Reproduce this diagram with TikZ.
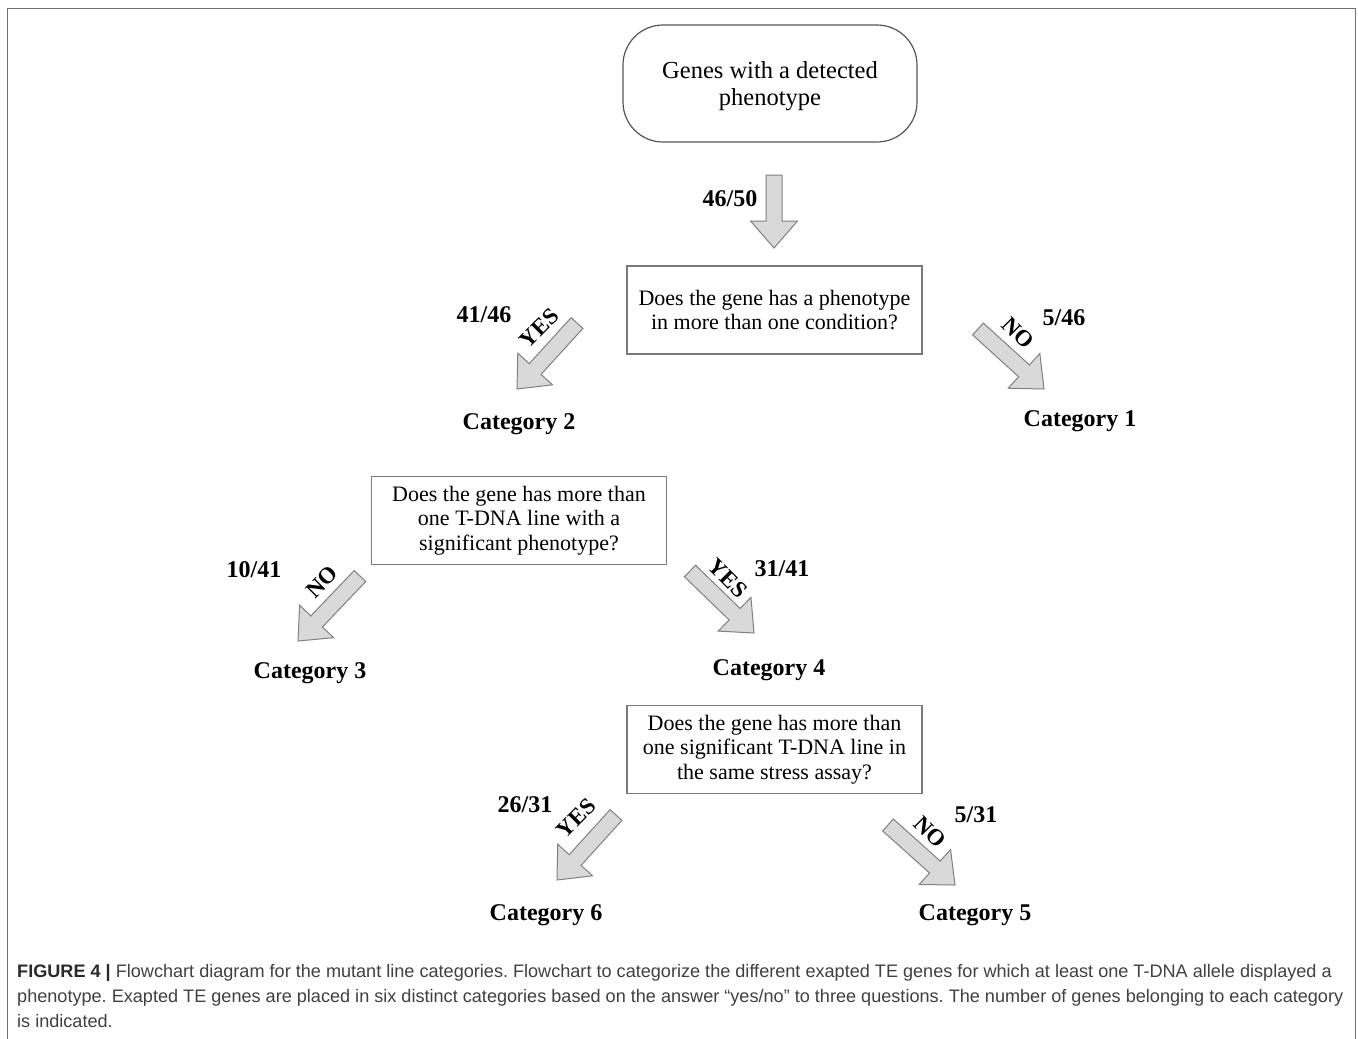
\documentclass[tikz,border=0pt]{standalone}
\usepackage{fontspec}
\setmainfont{Liberation Serif}
\newfontfamily\capfont{Liberation Sans}
\usetikzlibrary{calc}
\definecolor{framegray}{HTML}{707070}
\definecolor{boxgray}{HTML}{7A7A7A}
\definecolor{startgray}{HTML}{555555}
\definecolor{arrowfill}{HTML}{D9D9D9}
\definecolor{arrowline}{HTML}{808080}
\definecolor{capgray}{HTML}{404040}
\definecolor{capdark}{HTML}{2A2A2A}
\tikzset{
  framestyle/.style={draw=framegray, line width=1.5pt},
  startbox/.style={draw=startgray, line width=1.2pt, rounded corners=40pt, minimum width=294pt, minimum height=117pt, align=center, inner sep=0pt, font=\fontsize{24.5}{27}\selectfont},
  qbox/.style={draw=boxgray, line width=1.2pt, minimum width=295pt, minimum height=88pt, align=center, inner sep=0pt, font=\fontsize{22}{24.5}\selectfont},
  catlabel/.style={inner sep=0pt, font=\fontsize{24}{28}\selectfont\bfseries},
  numlabel/.style={inner sep=0pt, font=\fontsize{24}{28}\selectfont\bfseries},
  anslabel/.style={inner sep=0pt, font=\fontsize{23}{23}\selectfont\bfseries},
  arrowbody/.style={draw=arrowline, fill=arrowfill, line width=1pt, line join=miter},
  capline/.style={inner sep=0pt, anchor=base west, text=capgray, font=\capfont\fontsize{18.1}{25}\selectfont\frenchspacing}
}
\newcommand{\blockarrow}[2]{%
  \path ($(#2)!27pt!(#1)$) coordinate (hb);
  \draw[arrowbody] ($(#1)!8pt!90:(#2)$) -- ($(hb)!8pt!-90:(#1)$) -- ($(hb)!23.5pt!-90:(#1)$) -- (#2) -- ($(hb)!23.5pt!90:(#1)$) -- ($(hb)!8pt!90:(#1)$) -- ($(#1)!8pt!-90:(#2)$) -- cycle;
}
\begin{document}
\begin{tikzpicture}[x=1pt, y=-1pt]
\useasboundingbox (0,0) rectangle (1358,1039);
\fill[white] (0,0) rectangle (1358,1039);
% outer frame
\draw[framestyle] (7.5,1045) -- (7.5,8.5) -- (1355.5,8.5) -- (1355.5,1045);

% boxes
\node[startbox] (start) at (770,83.5) {};
\node[align=center, inner sep=0pt, font=\fontsize{24.5}{27}\selectfont] (starttext) at (770,86.5) {Genes with a detected\\phenotype};
\node[qbox] (q1) at (774.5,310) {Does the gene has a phenotype\\in more than one condition?};
\node[qbox] (q2) at (519,520.5) {Does the gene has more than\\one T-DNA line with a\\significant phenotype?};
\node[qbox] (q3) at (774.5,749.5) {Does the gene has more than\\one significant T-DNA line in\\the same stress assay?};

% categories
\node[catlabel] (cat2) at (519,424) {Category 2};
\node[catlabel] (cat1) at (1080,421) {Category 1};
\node[catlabel] (cat3) at (310,673) {Category 3};
\node[catlabel] (cat4) at (769,670) {Category 4};
\node[catlabel] (cat6) at (546,915) {Category 6};
\node[catlabel] (cat5) at (975,915) {Category 5};

% arrow end points
\coordinate (a1s) at (774,175);  \coordinate (a1e) at (774,248);
\coordinate (a2s) at (577,323);  \coordinate (a2e) at (517,389);
\coordinate (a3s) at (978,329);  \coordinate (a3e) at (1044,389);
\coordinate (a4s) at (360,576);  \coordinate (a4e) at (298,641);
\coordinate (a5s) at (690,571);  \coordinate (a5e) at (754,633);
\coordinate (a6s) at (616,815);  \coordinate (a6e) at (557,880);
\coordinate (a7s) at (888,825);  \coordinate (a7e) at (955,885);

\blockarrow{a1s}{a1e}
\blockarrow{a2s}{a2e}
\blockarrow{a3s}{a3e}
\blockarrow{a4s}{a4e}
\blockarrow{a5s}{a5e}
\blockarrow{a6s}{a6e}
\blockarrow{a7s}{a7e}

% counts
\node[numlabel] (n1) at (730,199) {46/50};
\node[numlabel] (n2) at (484,315) {41/46};
\node[numlabel] (n3) at (1064,318) {5/46};
\node[numlabel] (n4) at (254,570) {10/41};
\node[numlabel] (n5) at (782,569) {31/41};
\node[numlabel] (n6) at (525,805) {26/31};
\node[numlabel] (n7) at (976,815) {5/31};

% answers
\node[anslabel, rotate=45] (y2) at (539,328) {YES};
\node[anslabel, rotate=-45] (no3) at (1018,333) {NO};
\node[anslabel, rotate=45] (no4) at (322,582) {NO};
\node[anslabel, rotate=-45] (y5) at (728,578) {YES};
\node[anslabel, rotate=45] (y6) at (576,818) {YES};
\node[anslabel, rotate=-45] (no7) at (930,832) {NO};

% caption
\node[capline] (cap1) at (17,977) {{\color{capdark}\bfseries FIGURE 4 |} Flowchart diagram for the mutant line categories. Flowchart to categorize the different exapted TE genes for which at least one T-DNA allele displayed a};
\node[capline] (cap2) at (17,1002) {phenotype. Exapted TE genes are placed in six distinct categories based on the answer “yes/no” to three questions. The number of genes belonging to each category};
\node[capline] (cap3) at (17,1027) {is indicated.};
\end{tikzpicture}
\end{document}
